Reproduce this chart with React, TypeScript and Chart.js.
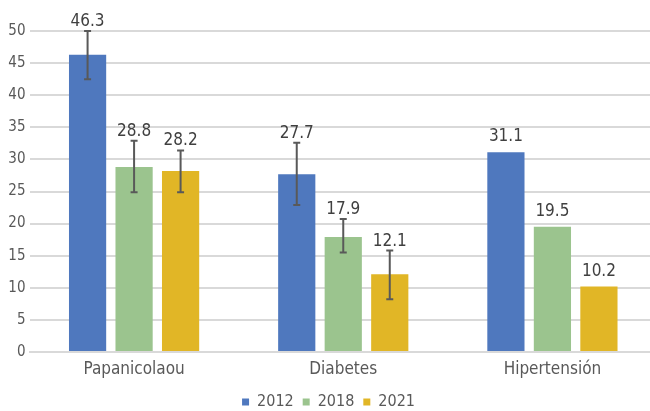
import { useEffect, useRef } from "react";
import { Chart, registerables } from "chart.js";
Chart.register(...registerables);

const categories = ["Papanicolaou", "Diabetes", "Hipertensión"];
const years = ["2012", "2018", "2021"];
const values2012 = [46.3, 27.7, 31.1];
const values2018 = [28.8, 17.9, 19.5];
const values2021 = [28.2, 12.1, 10.2];
const errLow2012 = [42.5, 22.9, null];
const errHigh2012 = [50.0, 32.6, null];
const errLow2018 = [24.9, 15.5, null];
const errHigh2018 = [32.9, 20.7, null];
const errLow2021 = [24.9, 8.2, null];
const errHigh2021 = [31.4, 15.8, null];
const yMin = 0;
const yMax = 50;
const yStep = 5;

const colors = ["#4F78BE", "#9BC48E", "#E1B626"];
const FONT = "'Liberation Sans Narrow', 'DejaVu Sans Condensed', sans-serif";

const seriesValues = [values2012, values2018, values2021];
const seriesLow = [errLow2012, errLow2018, errLow2021];
const seriesHigh = [errHigh2012, errHigh2018, errHigh2021];

const errorBarPlugin = {
  id: "errorBarsAndLabels",
  afterDatasetsDraw(chart: any) {
    const ctx = chart.ctx;
    const yScale = chart.scales.y;
    ctx.save();
    chart.data.datasets.forEach((ds: any, di: number) => {
      const meta = chart.getDatasetMeta(di);
      meta.data.forEach((bar: any, i: number) => {
        const lo = seriesLow[di][i];
        const hi = seriesHigh[di][i];
        let labelY = bar.y - 11;
        if (lo != null && hi != null) {
          const yLo = yScale.getPixelForValue(lo);
          const yHi = yScale.getPixelForValue(hi);
          ctx.strokeStyle = "#595959";
          ctx.lineWidth = 2;
          ctx.beginPath();
          ctx.moveTo(bar.x, yLo);
          ctx.lineTo(bar.x, yHi);
          ctx.moveTo(bar.x - 3.5, yLo);
          ctx.lineTo(bar.x + 3.5, yLo);
          ctx.moveTo(bar.x - 3.5, yHi);
          ctx.lineTo(bar.x + 3.5, yHi);
          ctx.stroke();
          labelY = yHi - 5;
        }
        ctx.fillStyle = "#404040";
        ctx.font = `17px ${FONT}`;
        ctx.textAlign = "center";
        ctx.textBaseline = "alphabetic";
        ctx.fillText(ds.data[i].toFixed(1), bar.x, labelY);
      });
    });
    ctx.restore();
  },
};

export default function App() {
  const ref = useRef<HTMLCanvasElement>(null);
  useEffect(() => {
    document.body.style.margin = "0";
    document.body.style.overflow = "hidden";
    const chart = new Chart(ref.current!, {
      type: "bar",
      data: {
        labels: categories,
        datasets: years.map((y, i) => ({
          label: y,
          data: seriesValues[i],
          backgroundColor: colors[i],
          borderWidth: 0,
          categoryPercentage: 0.667,
          barPercentage: 0.8,
        })),
      },
      options: {
        animation: false,
        responsive: false,
        layout: { padding: { top: 31, left: 0, right: 0, bottom: -9 } },
        plugins: {
          tooltip: { enabled: false },
          legend: {
            position: "bottom",
            labels: {
              boxWidth: 7,
              boxHeight: 7,
              padding: 9,
              color: "#595959",
              font: { family: FONT, size: 16, lineHeight: 1 },
            },
          },
        },
        scales: {
          x: {
            grid: { display: false, drawTicks: false },
            border: { display: true, color: "#D9D9D9", width: 2 },
            ticks: { color: "#595959", font: { family: FONT, size: 17 }, padding: 7 },
            afterFit: (s: any) => { s.height = 33; },
          },
          y: {
            min: yMin,
            max: yMax,
            ticks: { stepSize: yStep, color: "#595959", font: { family: FONT, size: 15 }, padding: 4 },
            grid: { color: "#D9D9D9", lineWidth: 2, drawTicks: false },
            border: { display: false },
            afterFit: (s: any) => { s.width = 29.5; },
          },
        },
      },
      plugins: [errorBarPlugin],
    });
    return () => chart.destroy();
  }, []);
  return <canvas ref={ref} width={657} height={411} style={{ display: "block" }} />;
}
